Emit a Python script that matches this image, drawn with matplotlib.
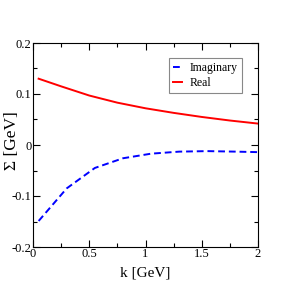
import matplotlib

matplotlib.use("Agg")
import matplotlib.pyplot as plt
from matplotlib.ticker import FuncFormatter, MultipleLocator

# values
k_real = [0.05, 0.25, 0.5, 0.75, 1.0, 1.25, 1.5, 1.75, 2.0]
sigma_real = [0.130, 0.115, 0.097, 0.083, 0.072, 0.063, 0.055, 0.048, 0.042]

k_imag = [0.05, 0.3, 0.55, 0.8, 1.05, 1.3, 1.55, 1.8, 2.0]
sigma_imag = [-0.149, -0.085, -0.045, -0.026, -0.017, -0.013, -0.012, -0.013, -0.014]

plt.rcParams["font.family"] = ["Liberation Serif", "DejaVu Serif"]


def plain(v, _pos):
    s = f"{v:g}"
    return "0" if s in ("0", "-0") else s


fig = plt.figure(figsize=(2.91, 2.91), dpi=100)
ax = fig.add_axes([33 / 291, 1 - 247 / 291, 225 / 291, 204 / 291])

ax.plot(k_imag, sigma_imag, color="#0000ff", lw=1.4, ls=(0, (3.5, 2)), label="Imaginary")
ax.plot(k_real, sigma_real, color="#ff0000", lw=1.4, label="Real")

ax.set_xlim(0, 2)
ax.set_ylim(-0.2, 0.2)
ax.xaxis.set_major_locator(MultipleLocator(0.5))
ax.xaxis.set_minor_locator(MultipleLocator(0.25))
ax.yaxis.set_major_locator(MultipleLocator(0.1))
ax.yaxis.set_minor_locator(MultipleLocator(0.05))
ax.xaxis.set_major_formatter(FuncFormatter(plain))
ax.yaxis.set_major_formatter(FuncFormatter(plain))
ax.tick_params(which="both", direction="in", top=True, right=True, labelsize=9, pad=1)
ax.tick_params(which="major", length=5, width=0.8)
ax.tick_params(which="minor", length=3, width=0.8)
for sp in ax.spines.values():
    sp.set_linewidth(0.8)

ax.set_xlabel("k [GeV]", fontsize=11)
ax.set_ylabel("Σ [GeV]", fontsize=12.5)
ax.xaxis.set_label_coords(0.5, -0.095)
ax.yaxis.set_label_coords(-0.057, 0.52)

leg = ax.legend(loc="upper left", bbox_to_anchor=(0.604, 0.927), fontsize=8.5,
                handlelength=0.8, handletextpad=0.6, borderpad=0.35,
                borderaxespad=0, labelspacing=0.25, fancybox=False, framealpha=1)
leg.get_frame().set_edgecolor("#888888")
leg.get_frame().set_linewidth(0.8)

fig.savefig("out.png", dpi=100)
